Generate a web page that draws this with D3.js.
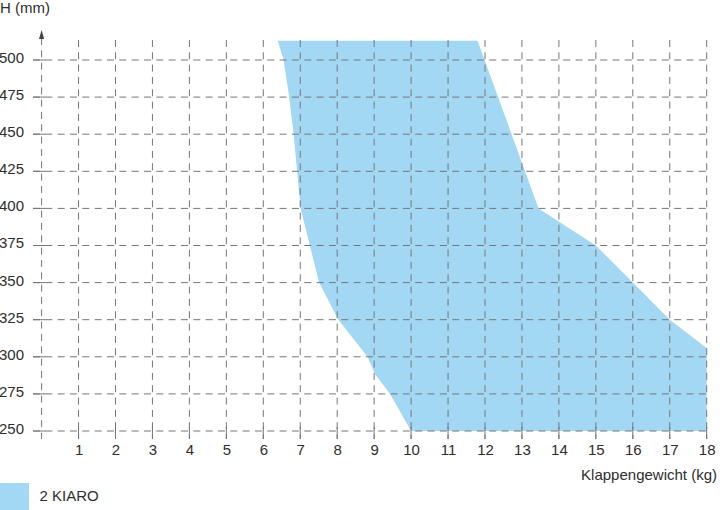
<!DOCTYPE html>
<html>
<head>
<meta charset="utf-8">
<script src="https://cdn.jsdelivr.net/npm/d3@7"></script>
<style>
  html, body { margin: 0; padding: 0; background: #fff; }
  text { font-family: "Liberation Sans", Arial, sans-serif; }
</style>
</head>
<body>
<script>
// ---- data ----
const kgTicks = [1,2,3,4,5,6,7,8,9,10,11,12,13,14,15,16,17,18];
const hTicks = [250,275,300,325,350,375,400,425,450,475,500];
// boundary of the "2 KIARO" area (Klappengewicht kg, H mm)
const areaKg = [6.39, 6.55, 6.70, 6.82, 7.01, 7.51, 8.03, 8.82, 9.03, 9.43, 10.0, 18.0, 18.0, 17.0, 16.0, 15.0, 13.45, 11.80];
const areaH  = [513,  500,  475,  450,  400,  350,  325,  300,  288,  275,  250,  250,  306,  325,  350,  375,  400,   513];
const seriesName = "2 KIARO";
const xTitle = "Klappengewicht (kg)";
const yTitle = "H (mm)";

const fillColor = "#a3d8f5";
const gridColor = "#767676";
const textColor = "#2e2e2e";
const fs = 15;

const svg = d3.select("body").append("svg").attr("width", 720).attr("height", 510);

const x = d3.scaleLinear().domain([0, 18]).range([41.6, 706.7]);
const y = d3.scaleLinear().domain([250, 500]).range([431, 60]);

// area
const pts = areaKg.map((k, i) => [x(k), y(areaH[i])]);
svg.append("path")
  .attr("d", d3.line()(pts) + "Z")
  .attr("fill", fillColor);

const dash = "7,5.33";
const g = svg.append("g").attr("stroke", gridColor).attr("stroke-width", 1).attr("fill", "none");

// horizontal grid lines
g.selectAll("line.h").data(hTicks).join("line")
  .attr("class", "h")
  .attr("x1", 33).attr("x2", x(18))
  .attr("y1", d => y(d)).attr("y2", d => y(d))
  .attr("stroke-dasharray", dash);

// vertical grid lines
g.selectAll("line.v").data(kgTicks).join("line")
  .attr("class", "v")
  .attr("x1", d => x(d)).attr("x2", d => x(d))
  .attr("y1", y(513.5)).attr("y2", 439)
  .attr("stroke-dasharray", dash);

// y axis line (dashed) + arrow
g.append("line")
  .attr("x1", x(0)).attr("x2", x(0))
  .attr("y1", 38).attr("y2", 439)
  .attr("stroke-dasharray", dash);
svg.append("path")
  .attr("d", `M${x(0)},30 L${x(0)-2.6},39 L${x(0)+2.6},39 Z`)
  .attr("fill", "#444");

// tick marks
g.selectAll("line.tx").data(kgTicks).join("line")
  .attr("class", "tx")
  .attr("x1", d => x(d)).attr("x2", d => x(d))
  .attr("y1", y(250) - 4).attr("y2", 439);
g.selectAll("line.ty").data(hTicks).join("line")
  .attr("class", "ty")
  .attr("x1", 33).attr("x2", x(0) + 4)
  .attr("y1", d => y(d)).attr("y2", d => y(d));

// axes labels via d3 axes
const ax = svg.append("g").attr("transform", `translate(0,${y(250)})`)
  .call(d3.axisBottom(x).tickValues(kgTicks).tickSize(0).tickPadding(13.4).tickFormat(d3.format("d")));
const ay = svg.append("g").attr("transform", `translate(${x(0)},0)`)
  .call(d3.axisLeft(y).tickValues(hTicks).tickSize(0).tickPadding(17.6).tickFormat(d3.format("d")));
[ax, ay].forEach(a => {
  a.select(".domain").remove();
  a.selectAll("text").attr("font-size", fs).attr("fill", textColor)
    .attr("font-family", "Liberation Sans, Arial, sans-serif");
});
ay.selectAll("text").attr("dy", "0.16em");

// titles
svg.append("text").attr("x", 0).attr("y", 12.5)
  .attr("font-size", fs).attr("fill", textColor).text(yTitle);
svg.append("text").attr("x", 717).attr("y", 480).attr("text-anchor", "end")
  .attr("font-size", fs).attr("fill", textColor).text(xTitle);

// legend
svg.append("rect").attr("x", 0).attr("y", 483).attr("width", 29).attr("height", 27).attr("fill", fillColor);
svg.append("text").attr("x", 39.5).attr("y", 501)
  .attr("font-size", fs).attr("fill", textColor).text(seriesName);
</script>
</body>
</html>
